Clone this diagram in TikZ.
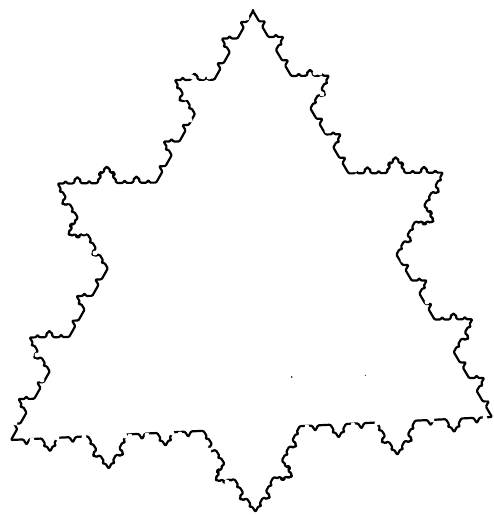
\documentclass[tikz,border=0pt]{standalone}
\makeatletter
\gdef\kp{}
\newcommand\kochseg[5]{%
  \ifnum#5=0
    \xdef\kp{\kp -- (#3,#4)}%
  \else
    \begingroup
    \pgfmathsetmacro\dxx{#3-(#1)}%
    \pgfmathsetmacro\dyy{#4-(#2)}%
    \pgfmathsetmacro\ax{#1+0.4*\dxx}%
    \pgfmathsetmacro\ay{#2+0.4*\dyy}%
    \pgfmathsetmacro\bx{#1+0.6*\dxx}%
    \pgfmathsetmacro\by{#2+0.6*\dyy}%
    \pgfmathsetmacro\px{#1+0.5*\dxx-0.1732*\dyy}%
    \pgfmathsetmacro\py{#2+0.5*\dyy+0.1732*\dxx}%
    \pgfmathtruncatemacro\lv{#5-1}%
    \edef\nx{%
      \noexpand\kochseg{#1}{#2}{\ax}{\ay}{\lv}%
      \noexpand\kochseg{\ax}{\ay}{\px}{\py}{\lv}%
      \noexpand\kochseg{\px}{\py}{\bx}{\by}{\lv}%
      \noexpand\kochseg{\bx}{\by}{#3}{#4}{\lv}}%
    \nx
    \endgroup
  \fi}
\makeatother
\tikzset{curve/.style={draw=black,line width=2.2bp,line join=round,line cap=round,rounded corners=1bp},
  speck/.style={fill=black,draw=none},
  gapdot/.style={fill=white,draw=none}}
\begin{document}
\begin{tikzpicture}[x=1bp,y=-1bp]
\useasboundingbox (0,0) rectangle (494,515);
\kochseg{253}{11}{11}{440}{4}
\kochseg{11}{440}{492}{417}{4}
\kochseg{492}{417}{253}{11}{4}
\draw[curve] (253,11) \kp -- cycle;
\foreach \x/\y in {71/180,69/201,78/232,84/232,95/253,163/161,185/98,190/120,192/77,203/77,209/77,247/18,
  315/73,320/73,322/94,327/131,355/170,383/168,432/168,431/189,
  37/355,42/380,15/423,32/440,57/438,84/437,125/436,130/436,147/435,172/433,180/434,209/450,227/482,
  485/418,487/398,432/420,353/425,307/427,377/423,427/302,403/260}
  \fill[gapdot] (\x,\y) circle (2.4bp);
\fill[speck] (291.7,377) circle (0.9bp);
\fill[speck] (365.3,375.3) circle (0.6bp);
\end{tikzpicture}
\end{document}
